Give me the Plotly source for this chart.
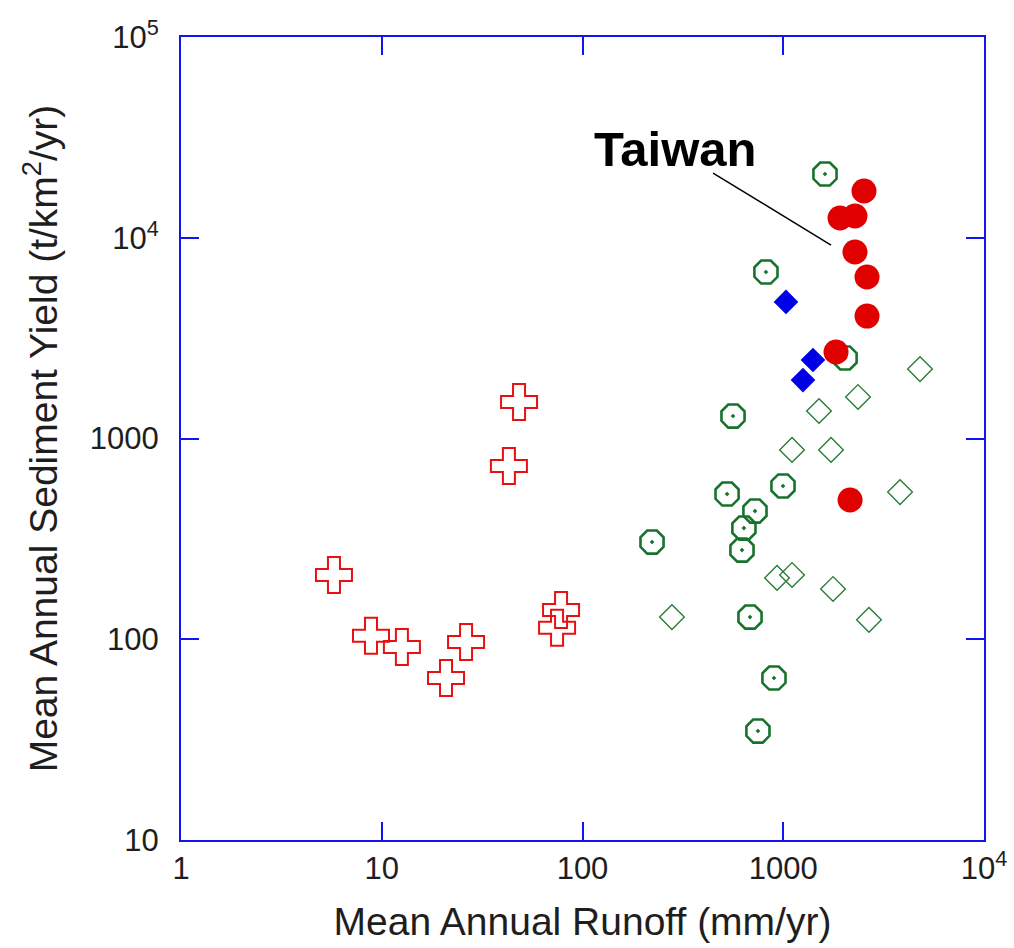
import math
import plotly.graph_objects as go

# Mean annual runoff (mm/yr) and mean annual sediment yield (t/km^2/yr)
cross_runoff = [48.3, 43.0, 5.78, 8.84, 12.6, 20.9, 26.3, 78.2, 74.7]
cross_yield = [1520, 730, 209, 104, 91.5, 64.1, 96.9, 140, 114]

taiwan_runoff = [2525, 1918, 2277, 2277, 2614, 2614, 1832, 2152]
taiwan_yield = [17100, 12540, 12830, 8490, 6375, 4074, 2697, 494]

blue_runoff = [1032, 1406, 1254]
blue_yield = [4790, 2460, 1955]

ring_runoff = [1614, 820, 2032, 562, 997, 525, 723, 637, 623, 222, 683, 899, 748]
ring_yield = [20770, 6750, 2518, 1294, 580, 529, 435, 358, 278, 305, 129, 64.1, 34.9]

open_diam_runoff = [4800, 2357, 1507, 1106, 1730, 3818, 931, 1106, 1770, 279, 2673]
open_diam_yield = [2218, 1610, 1371, 877, 877, 541, 202, 209, 178, 129, 125]

# Label and leader line for the Taiwan group
label_text = "Taiwan"
label_pos = (289, 27700)
leader_runoff = [447, 1730]
leader_yield = [21010, 9200]

x_tickvals = [1, 10, 100, 1000, 10000]
x_ticktext = ["1", "10", "100", "1000", "10<sup>4</sup>"]
y_tickvals = [10, 100, 1000, 10000, 100000]
y_ticktext = ["10", "100", "1000", "10<sup>4</sup>", "10<sup>5</sup>"]

FONT = "Liberation Sans, Arial, Helvetica, sans-serif"
AXIS_BLUE = "#1414f0"
GREEN = "#17722c"
TEXT = "#1e1e1e"

fig = go.Figure()

fig.add_trace(go.Scatter(
    x=ring_runoff, y=ring_yield, mode="markers",
    marker=dict(symbol="octagon-open-dot", size=25, color=GREEN,
                line=dict(color=GREEN, width=2.6)),
))
fig.add_trace(go.Scatter(
    x=open_diam_runoff, y=open_diam_yield, mode="markers",
    marker=dict(symbol="diamond-open", size=19, color="#2a7d3a",
                line=dict(color="#2a7d3a", width=1.4)),
))
fig.add_trace(go.Scatter(
    x=blue_runoff, y=blue_yield, mode="markers",
    marker=dict(symbol="diamond", size=19, color="#0000e6", line=dict(width=0)),
))
fig.add_trace(go.Scatter(
    x=taiwan_runoff, y=taiwan_yield, mode="markers",
    marker=dict(symbol="circle", size=25, color="#e00000", line=dict(width=0)),
))
fig.add_trace(go.Scatter(
    x=cross_runoff, y=cross_yield, mode="markers",
    marker=dict(symbol="cross-open", size=30, color="#e81010",
                line=dict(color="#e81010", width=2)),
))
fig.add_trace(go.Scatter(
    x=leader_runoff, y=leader_yield, mode="lines",
    line=dict(color="black", width=1.5),
))

fig.add_annotation(
    x=math.log10(label_pos[0]), y=math.log10(label_pos[1]),
    xref="x", yref="y", text=f"<b>{label_text}</b>", showarrow=False,
    font=dict(family=FONT, size=49, color="black"),
)

axis_common = dict(
    type="log",
    showline=True, linecolor=AXIS_BLUE, linewidth=2, mirror="ticks",
    ticks="inside", ticklen=18, tickwidth=2, tickcolor=AXIS_BLUE,
    showgrid=False, zeroline=False,
    tickfont=dict(family=FONT, size=31, color=TEXT),
)

fig.update_xaxes(
    **axis_common, range=[0, 4],
    tickmode="array", tickvals=x_tickvals, ticktext=x_ticktext,
    title=dict(text="Mean Annual Runoff (mm/yr)", standoff=22,
               font=dict(family=FONT, size=39, color=TEXT)),
)
fig.update_yaxes(
    **axis_common, range=[1, 5],
    tickmode="array", tickvals=y_tickvals, ticktext=y_ticktext,
    ticklabelstandoff=14,
    title=dict(text="Mean Annual Sediment Yield (t/km<sup>2</sup>/yr)", standoff=20,
               font=dict(family=FONT, size=39, color=TEXT)),
)

fig.update_layout(
    width=1014, height=948,
    margin=dict(l=181, r=30, t=37, b=108, autoexpand=False),
    paper_bgcolor="white", plot_bgcolor="white",
    showlegend=False,
    font=dict(family=FONT),
)

fig.write_html("out.html")
